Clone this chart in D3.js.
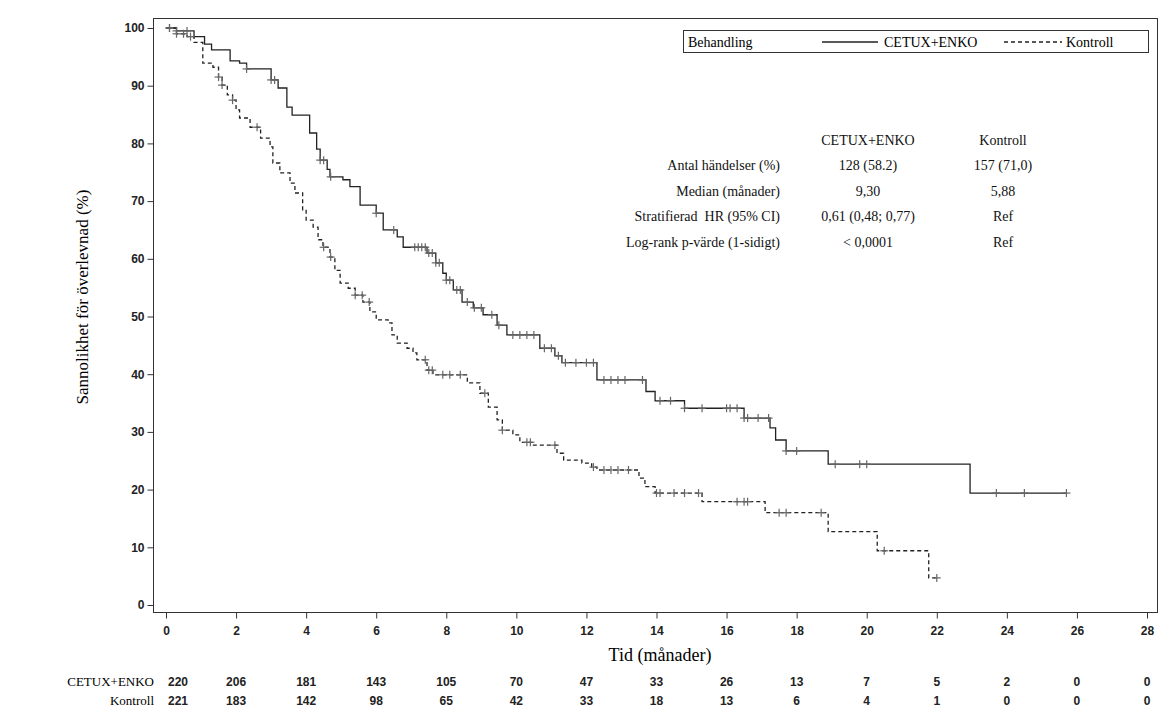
<!DOCTYPE html>
<html><head><meta charset="utf-8">
<script src="https://cdn.jsdelivr.net/npm/d3@7"></script>
<style>body{margin:0;background:#fff}</style>
</head><body>
<svg id="chart" width="1174" height="727"></svg>
<script>
// step curves: [month, survival %]
const cetuxSteps = [[0,100],[0.3,99.5],[0.8,98.5],[1.1,97.2],[1.3,96.2],[1.83,94.3],[2.1,93.9],[2.3,92.9],[3.0,91],[3.2,89.6],[3.45,86.3],[3.6,84.9],[4.1,81.8],[4.3,79],[4.4,77.1],[4.6,75.5],[4.68,74.2],[5.05,73.7],[5.25,72.5],[5.54,69.3],[6.0,67.9],[6.2,65],[6.6,63.8],[6.77,62],[7.45,61],[7.7,59.3],[7.9,57.5],[8.0,56.3],[8.2,54.6],[8.45,52.5],[8.77,51.5],[9.05,50.3],[9.45,48.5],[9.73,46.8],[10.67,44.5],[11.1,43.2],[11.3,42],[12.3,39],[13.7,37],[13.96,35.4],[14.8,34.1],[16.5,32.4],[17.24,30.7],[17.4,28.6],[17.7,26.7],[18.9,24.4],[22.95,19.4],[25.7,19.4]];
const kontrollSteps = [[0,100],[0.3,99],[0.6,98.5],[0.8,97.5],[1.05,93.9],[1.34,93.2],[1.5,91.5],[1.6,90.1],[1.75,88.4],[1.9,87.5],[2.0,85.8],[2.1,84.4],[2.4,82.8],[2.7,80.9],[2.97,79.4],[3.05,76.6],[3.25,74.9],[3.54,73.1],[3.68,71.4],[3.9,68.5],[4.0,66.7],[4.2,65.5],[4.34,63.3],[4.48,62],[4.68,60.3],[4.82,58],[4.97,55.8],[5.2,54.9],[5.4,53.7],[5.62,52.5],[5.82,50.8],[6.0,49.4],[6.34,48.9],[6.45,46.8],[6.6,45.4],[6.88,44.5],[7.05,43.7],[7.16,42.5],[7.45,40.7],[7.62,39.9],[8.6,38.5],[8.96,36.7],[9.2,34.3],[9.45,32.1],[9.6,30.3],[9.9,29.5],[10.1,28.2],[10.45,27.7],[11.16,26.3],[11.35,25.1],[11.87,24.6],[12.15,23.9],[12.3,23.4],[13.5,22],[13.67,20.5],[13.96,19.4],[15.3,17.9],[17.1,16],[18.9,12.7],[20.3,9.4],[21.77,4.7],[22.0,4.7]];
const cetuxCensor = [0.1,0.3,0.6,2.3,3.0,3.1,4.4,4.5,4.7,6.0,6.5,7.1,7.2,7.3,7.4,7.5,7.6,7.7,7.8,8.0,8.1,8.3,8.4,8.6,8.8,9.0,9.3,9.5,9.9,10.1,10.3,10.5,10.8,11.0,11.2,11.4,11.7,12.0,12.2,12.5,12.7,12.9,13.1,13.6,14.1,14.4,14.8,15.3,16.0,16.1,16.3,16.5,16.6,16.9,17.2,17.7,18.0,19.1,19.8,20.0,23.7,24.5,25.7];
const kontrollCensor = [0.1,0.3,0.5,0.7,1.5,1.6,1.9,2.6,4.5,4.7,5.4,5.6,5.8,7.4,7.5,7.6,7.9,8.1,8.4,9.1,9.6,10.3,10.4,11.1,12.2,12.5,12.7,12.9,13.2,14.0,14.1,14.5,14.8,15.2,16.3,16.5,16.6,17.5,17.7,18.7,20.5,22.0];
const xTicks = d3.range(0, 29, 2);
const yTicks = d3.range(0, 101, 10);
const riskCetux = [220,206,181,143,105,70,47,33,26,13,7,5,2,0,0];
const riskKontroll = [221,183,142,98,65,42,33,18,13,6,4,1,0,0,0];
const statRows = ["Antal händelser (%)","Median (månader)","Stratifierad  HR (95% CI)","Log-rank p-värde (1-sidigt)"];
const statCetux = ["128 (58.2)","9,30","0,61 (0,48; 0,77)","< 0,0001"];
const statKontroll = ["157 (71,0)","5,88","Ref","Ref"];

const svg = d3.select("#chart");
const x = d3.scaleLinear().domain([0,28]).range([166,1147]);
const y = d3.scaleLinear().domain([0,100]).range([605,28]);
const serif = "Liberation Serif, Times New Roman, serif";
const sans = "Liberation Sans, Arial, sans-serif";

svg.append("rect").attr("x",153.5).attr("y",18.5).attr("width",1004).attr("height",594)
  .attr("fill","none").attr("stroke","#333").attr("stroke-width",1);

const xa = svg.append("g").attr("transform","translate(0,612.5)")
  .call(d3.axisBottom(x).tickValues(xTicks).tickSize(6).tickSizeOuter(0));
const ya = svg.append("g").attr("transform","translate(153.5,0)")
  .call(d3.axisLeft(y).tickValues(yTicks).tickSize(6).tickSizeOuter(0));
[xa,ya].forEach(a => {
  a.select(".domain").remove();
  a.selectAll("line").attr("stroke","#333");
  a.selectAll("text").attr("font-family",sans).attr("font-size",12).attr("font-weight","bold").attr("fill","#222");
});
xa.selectAll("text").attr("dy","1.1em");

svg.append("text").attr("x",660).attr("y",661).attr("text-anchor","middle")
  .attr("font-family",serif).attr("font-size",18).text("Tid (månader)");
svg.append("text").attr("transform","translate(88,297) rotate(-90)").attr("text-anchor","middle")
  .attr("font-family",serif).attr("font-size",17).text("Sannolikhet för överlevnad (%)");

const line = d3.line().x(d => x(d[0])).y(d => y(d[1])).curve(d3.curveStepAfter);
svg.append("path").datum(cetuxSteps).attr("d",line).attr("fill","none").attr("stroke","#222").attr("stroke-width",1.3);
svg.append("path").datum(kontrollSteps).attr("d",line).attr("fill","none").attr("stroke","#222").attr("stroke-width",1.3).attr("stroke-dasharray","4,3");

function survAt(steps, t) {
  let v = steps[0][1];
  for (const s of steps) if (s[0] <= t) v = s[1];
  return v;
}
function censor(times, steps) {
  const g = svg.append("g").attr("stroke","#666").attr("stroke-width",1.2);
  times.forEach(t => {
    const cx = x(t), cy = y(survAt(steps, t));
    g.append("line").attr("x1",cx-4).attr("x2",cx+4).attr("y1",cy).attr("y2",cy);
    g.append("line").attr("x1",cx).attr("x2",cx).attr("y1",cy-4).attr("y2",cy+4);
  });
}
censor(cetuxCensor, cetuxSteps);
censor(kontrollCensor, kontrollSteps);

// legend
const lg = svg.append("g");
lg.append("rect").attr("x",683.5).attr("y",30.5).attr("width",465).attr("height",22).attr("fill","#fff").attr("stroke","#333");
lg.append("text").attr("x",688).attr("y",47).attr("font-family",serif).attr("font-size",14).text("Behandling");
lg.append("line").attr("x1",822).attr("x2",878).attr("y1",42).attr("y2",42).attr("stroke","#222").attr("stroke-width",1.3);
lg.append("text").attr("x",884).attr("y",47).attr("font-family",serif).attr("font-size",14).text("CETUX+ENKO");
lg.append("line").attr("x1",1004).attr("x2",1062).attr("y1",42).attr("y2",42).attr("stroke","#222").attr("stroke-width",1.3).attr("stroke-dasharray","4,3");
lg.append("text").attr("x",1066).attr("y",47).attr("font-family",serif).attr("font-size",14).text("Kontroll");

// stats table
const st = svg.append("g").attr("font-family",serif).attr("font-size",14).attr("fill","#111");
st.append("text").attr("x",868).attr("y",145).attr("text-anchor","middle").text("CETUX+ENKO");
st.append("text").attr("x",1003).attr("y",145).attr("text-anchor","middle").text("Kontroll");
statRows.forEach((r,i) => {
  const yy = 170 + i*25.7;
  st.append("text").attr("x",780).attr("y",yy).attr("text-anchor","end").attr("xml:space","preserve").text(r);
  st.append("text").attr("x",868).attr("y",yy).attr("text-anchor","middle").text(statCetux[i]);
  st.append("text").attr("x",1003).attr("y",yy).attr("text-anchor","middle").text(statKontroll[i]);
});

// at-risk table
[[riskCetux,"CETUX+ENKO",686],[riskKontroll,"Kontroll",705]].forEach(([vals,lab,yy]) => {
  svg.append("text").attr("x",154).attr("y",yy).attr("text-anchor","end").attr("font-family",serif).attr("font-size",13).text(lab);
  svg.append("g").selectAll("text").data(vals).join("text")
    .attr("x",(d,i) => x(xTicks[i]) + (i === 0 ? 12 : 0)).attr("y",yy).attr("text-anchor","middle")
    .attr("font-family",sans).attr("font-size",12).attr("font-weight","bold").attr("fill","#222").text(d => d);
});
</script>
</body></html>
